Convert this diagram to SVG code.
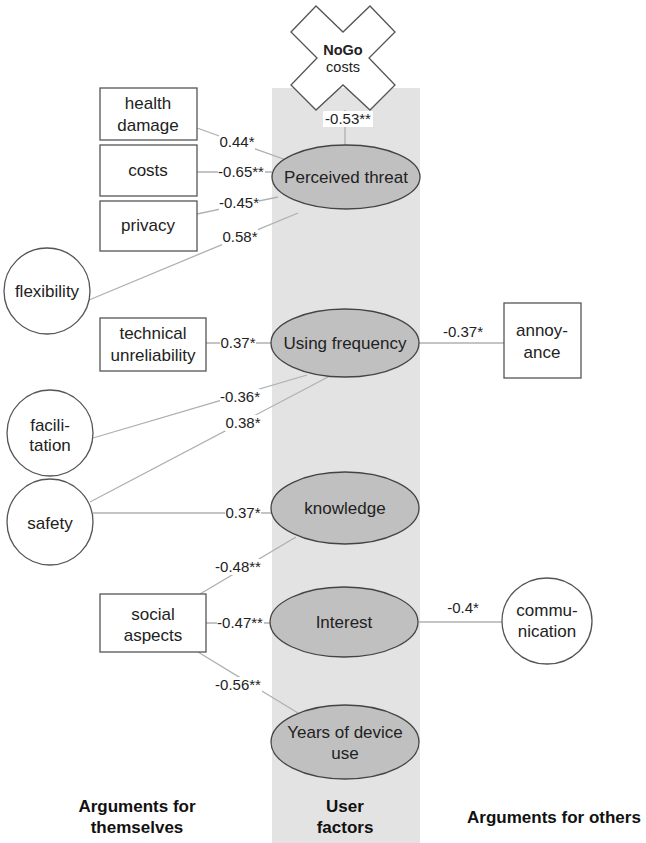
<svg xmlns="http://www.w3.org/2000/svg" width="646" height="843" viewBox="0 0 646 843">
<style>
.band{fill:#e3e3e3}
.box{fill:#fff;stroke:#555;stroke-width:1.3}
.ell{fill:#c0c0c0;stroke:#444;stroke-width:1.3}
.cir{fill:#fff;stroke:#555;stroke-width:1.3}
.con{stroke:#b0b0b0;stroke-width:1.3;fill:none}
.t{font-family:"Liberation Sans",Arial,sans-serif;font-size:17px;fill:#222;text-anchor:middle}
.nb{font-family:"Liberation Sans",Arial,sans-serif;font-size:14.5px;fill:#222;text-anchor:middle}
.lb{font-family:"Liberation Sans",Arial,sans-serif;font-size:15px;fill:#222;text-anchor:middle}
.h{font-family:"Liberation Sans",Arial,sans-serif;font-size:17px;font-weight:bold;fill:#111;text-anchor:middle}
.lbg{fill:#fff}
</style>
<rect class="band" x="272" y="88" width="148" height="755"/>

<g id="connectors">
<line class="con" x1="345" y1="110" x2="345" y2="145"/>
<line class="con" x1="197" y1="128" x2="289" y2="161"/>
<line class="con" x1="197" y1="172" x2="272" y2="172"/>
<line class="con" x1="197" y1="214" x2="278" y2="197"/>
<line class="con" x1="89" y1="300" x2="298" y2="213"/>
<line class="con" x1="206" y1="343" x2="271" y2="343"/>
<line class="con" x1="419" y1="343" x2="504" y2="343"/>
<line class="con" x1="93" y1="438" x2="307" y2="375"/>
<line class="con" x1="90" y1="502" x2="328" y2="377"/>
<line class="con" x1="93" y1="513" x2="271" y2="513"/>
<line class="con" x1="200" y1="594" x2="296" y2="537"/>
<line class="con" x1="206" y1="623" x2="271" y2="623"/>
<line class="con" x1="419" y1="622" x2="502" y2="622"/>
<line class="con" x1="198" y1="652" x2="298" y2="713"/>

<g id="labels">
<rect class="lbg" x="323" y="111" width="50" height="16"/>
<text class="lb" x="348" y="124">-0.53**</text>
<rect class="lbg" x="219" y="134" width="36" height="16"/>
<text class="lb" x="237" y="147">0.44*</text>
<rect class="lbg" x="218" y="164" width="47" height="16"/>
<text class="lb" x="241" y="177">-0.65**</text>
<rect class="lbg" x="219" y="195" width="40" height="16"/>
<text class="lb" x="239" y="208">-0.45*</text>
<rect class="lbg" x="222" y="229" width="36" height="16"/>
<text class="lb" x="240" y="242">0.58*</text>
<rect class="lbg" x="220" y="335" width="36" height="16"/>
<text class="lb" x="238" y="348">0.37*</text>
<text class="lb" x="463" y="337">-0.37*</text>
<rect class="lbg" x="220" y="389" width="40" height="16"/>
<text class="lb" x="240" y="402">-0.36*</text>
<rect class="lbg" x="225" y="415" width="36" height="16"/>
<text class="lb" x="243" y="428">0.38*</text>
<rect class="lbg" x="225" y="505" width="36" height="16"/>
<text class="lb" x="243" y="518">0.37*</text>
<rect class="lbg" x="215" y="559" width="47" height="16"/>
<text class="lb" x="238" y="572">-0.48**</text>
<rect class="lbg" x="217" y="615" width="47" height="16"/>
<text class="lb" x="240" y="628">-0.47**</text>
<text class="lb" x="463" y="613">-0.4*</text>
<rect class="lbg" x="215" y="677" width="47" height="16"/>
<text class="lb" x="238" y="690">-0.56**</text>
</g>
</g>

<g id="nogo">
<polygon class="box" points="291,32 316,6 343,32 370,6 395,32 369,58 395,85 370,110 343,85 316,110 291,85 317,58"/>
<text class="nb" x="343" y="55" font-weight="bold">NoGo</text>
<text class="nb" x="343" y="72">costs</text>
</g>

<g id="perceived-threat">
<ellipse class="ell" cx="346" cy="177" rx="74" ry="32"/>
<text class="t" x="346" y="183">Perceived threat</text>
</g>
<g id="using-frequency">
<ellipse class="ell" cx="345" cy="343" rx="74" ry="34"/>
<text class="t" x="345" y="349">Using frequency</text>
</g>
<g id="knowledge">
<ellipse class="ell" cx="345" cy="508" rx="74" ry="36"/>
<text class="t" x="345" y="514">knowledge</text>
</g>
<g id="interest">
<ellipse class="ell" cx="344" cy="622" rx="74" ry="35"/>
<text class="t" x="344" y="628">Interest</text>
</g>
<g id="years">
<ellipse class="ell" cx="345" cy="742" rx="74" ry="37"/>
<text class="t" x="345" y="738">Years of device</text>
<text class="t" x="345" y="759">use</text>
</g>

<g id="health-damage">
<rect class="box" x="100" y="88" width="97" height="52"/>
<text class="t" x="148" y="109">health</text>
<text class="t" x="148" y="131">damage</text>
</g>
<g id="costs">
<rect class="box" x="100" y="145" width="97" height="51"/>
<text class="t" x="148" y="176">costs</text>
</g>
<g id="privacy">
<rect class="box" x="100" y="201" width="97" height="50"/>
<text class="t" x="148" y="231">privacy</text>
</g>
<g id="flexibility">
<circle class="cir" cx="47" cy="291" r="43"/>
<text class="t" x="47" y="297">flexibility</text>
</g>
<g id="technical-unreliability">
<rect class="box" x="100" y="318" width="106" height="53"/>
<text class="t" x="153" y="339">technical</text>
<text class="t" x="153" y="361">unreliability</text>
</g>
<g id="annoyance">
<rect class="box" x="504" y="303" width="77" height="75"/>
<text class="t" x="542" y="336">annoy-</text>
<text class="t" x="542" y="358">ance</text>
</g>
<g id="facilitation">
<circle class="cir" cx="50" cy="433" r="43"/>
<text class="t" x="50" y="431">facili-</text>
<text class="t" x="50" y="451">tation</text>
</g>
<g id="safety">
<circle class="cir" cx="50" cy="522" r="43"/>
<text class="t" x="50" y="529">safety</text>
</g>
<g id="social-aspects">
<rect class="box" x="100" y="594" width="106" height="58"/>
<text class="t" x="153" y="620">social</text>
<text class="t" x="153" y="641">aspects</text>
</g>
<g id="communication">
<ellipse class="cir" cx="547" cy="621" rx="45" ry="43"/>
<text class="t" x="547" y="616">commu-</text>
<text class="t" x="547" y="637">nication</text>
</g>

<g id="headings">
<text class="h" x="137" y="812">Arguments for</text>
<text class="h" x="137" y="833">themselves</text>
<text class="h" x="345" y="812">User</text>
<text class="h" x="345" y="833">factors</text>
<text class="h" x="554" y="823">Arguments for others</text>
</g>
</svg>
